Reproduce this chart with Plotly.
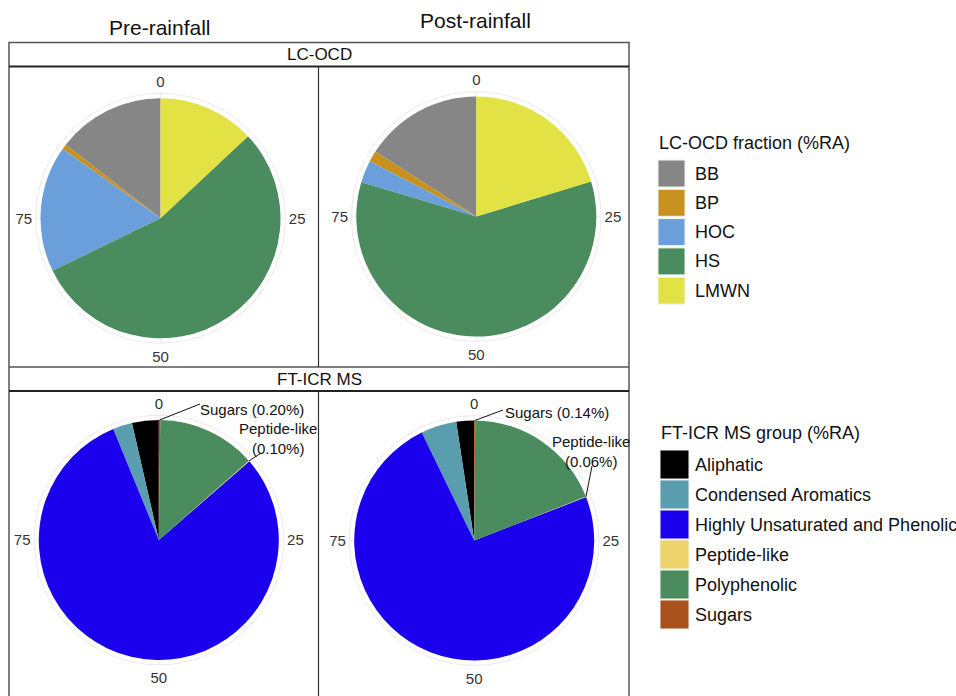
import math
import plotly.graph_objects as go

# ---- data (%RA) -------------------------------------------------------------
lc_groups = ["BB", "BP", "HOC", "HS", "LMWN"]
lc_colors = ["#868686", "#C8911F", "#6A9FDB", "#4A8C5E", "#E3E245"]
lc_pre = [14.5, 0.7, 17.0, 54.8, 13.0]
lc_post = [15.9, 1.5, 3.0, 59.3, 20.3]

ft_groups = ["Aliphatic", "Condensed Aromatics", "Highly Unsaturated and Phenolic",
             "Peptide-like", "Polyphenolic", "Sugars"]
ft_colors = ["#000000", "#5A9DAE", "#1B00EE", "#EED36A", "#4A8C5E", "#A8511C"]
ft_pre = [3.6, 2.6, 80.2, 0.10, 13.3, 0.20]
ft_post = [2.4, 4.8, 73.7, 0.06, 18.9, 0.14]

columns = ["Pre-rainfall", "Post-rainfall"]
strips = ["LC-OCD", "FT-ICR MS"]
axis_ticks = [0, 25, 50, 75]

W, H = 956, 696
PIE_R = 120          # pie radius, px
R_MAX = 1.04         # radial range -> grid circle just outside the pie


def px(x):
    return x / W


def py(y):
    return 1 - y / H


def wedges(values):
    """Stacked like ggplot: last level starts at 0 and runs clockwise."""
    order = list(range(len(values)))[::-1]
    start, thetas, widths = 0.0, [None] * len(values), [None] * len(values)
    for i in order:
        thetas[i] = (start + values[i] / 2) * 3.6
        widths[i] = values[i] * 3.6
        start += values[i]
    return thetas, widths


panels = [
    ("polar", lc_pre, lc_colors, lc_groups, (160.5, 218.3)),
    ("polar2", lc_post, lc_colors, lc_groups, (476.3, 216.5)),
    ("polar3", ft_pre, ft_colors, ft_groups, (158.8, 540.0)),
    ("polar4", ft_post, ft_colors, ft_groups, (474.2, 540.5)),
]

fig = go.Figure()
layout_polars = {}
for name, vals, cols, groups, (cx, cy) in panels:
    th, wd = wedges(vals)
    fig.add_trace(go.Barpolar(
        theta=th, width=wd, r=[1] * len(vals), base=0,
        marker=dict(color=cols, line=dict(width=0)),
        text=groups, hovertemplate="%{text}<extra></extra>",
        subplot=name, showlegend=False,
    ))
    half = PIE_R * R_MAX
    layout_polars[name] = dict(
        domain=dict(x=[px(cx - half), px(cx + half)], y=[py(cy + half), py(cy - half)]),
        bgcolor="white",
        bargap=0,
        radialaxis=dict(visible=False, range=[0, R_MAX]),
        angularaxis=dict(
            direction="clockwise", rotation=90,
            tickmode="array",
            tickvals=[t * 3.6 for t in range(0, 100, 25)] + [t * 3.6 + 45 for t in range(0, 100, 25)],
            ticktext=[str(t) for t in axis_ticks] + [""] * 4,
            ticks="", showline=True, linecolor="#EBEBEB", linewidth=1,
            gridcolor="#EBEBEB", gridwidth=1,
            tickfont=dict(family="Liberation Sans, Arial", size=15, color="#333333"),
        ),
    )

fig.update_layout(**layout_polars)

# ---- facet frame -------------------------------------------------------------
shapes = []
frame = dict(color="#555555", width=1.5)
sep = dict(color="#222222", width=2)
L, R, MID = 9, 629, 318.5
TOP, S1B, P1B, S2B, BOT = 42.5, 66.5, 367, 391, 700
shapes.append(dict(type="rect", xref="paper", yref="paper",
                   x0=px(L), x1=px(R), y0=py(BOT), y1=py(TOP), line=frame))
for y, ln in [(S1B, sep), (P1B, frame), (S2B, sep)]:
    shapes.append(dict(type="line", xref="paper", yref="paper",
                       x0=px(L), x1=px(R), y0=py(y), y1=py(y), line=ln))
for y0, y1 in [(S1B, P1B), (S2B, BOT)]:
    shapes.append(dict(type="line", xref="paper", yref="paper",
                       x0=px(MID), x1=px(MID), y0=py(y0), y1=py(y1),
                       line=dict(color="#333333", width=1.2)))

ann = []
font = "Liberation Sans, Arial"


def label(text, x, y, size, xanchor="center", align="center"):
    ann.append(dict(text=text, x=px(x), y=py(y), xref="paper", yref="paper",
                    xanchor=xanchor, yanchor="middle", align=align, showarrow=False,
                    font=dict(family=font, size=size, color="#111111")))


label(columns[0], 160, 27, 21)
label(columns[1], 475, 21, 21)
label(strips[0], 319, 54.5, 17)
label(strips[1], 319, 379, 17)


# ---- call-outs for the small FT-ICR MS groups ----------------------------------
def edge_point(vals, idx, cx, cy):
    th, _ = wedges(vals)
    a = math.radians(th[idx])
    return cx + PIE_R * math.sin(a), cy - PIE_R * math.cos(a)


callouts = [
    (ft_pre, (158.8, 540.0), 5, f"Sugars ({ft_pre[5]:.2f}%)", (200, 404), (252, 409)),
    (ft_pre, (158.8, 540.0), 3, f"Peptide-like<br>({ft_pre[3]:.2f}%)", (261, 453), (278, 438)),
    (ft_post, (474.2, 540.5), 5, f"Sugars ({ft_post[5]:.2f}%)", (503, 410), (557, 413)),
    (ft_post, (474.2, 540.5), 3, f"Peptide-like<br>({ft_post[3]:.2f}%)", (592, 466), (591, 451)),
]
for vals, (cx, cy), idx, text, (lx, ly), (tx, ty) in callouts:
    ex, ey = edge_point(vals, idx, cx, cy)
    shapes.append(dict(type="line", xref="paper", yref="paper",
                       x0=px(ex), y0=py(ey), x1=px(lx), y1=py(ly),
                       line=dict(color="#111111", width=1)))
    label(text, tx, ty, 15)


# ---- legends -------------------------------------------------------------------
def legend_block(title, names, colors, x0, title_y, first_top, size, pitch):
    label(title, x0, title_y, 18, xanchor="left")
    for i, (n, c) in enumerate(zip(names, colors)):
        top = first_top + i * pitch
        shapes.append(dict(type="rect", xref="paper", yref="paper",
                           x0=px(x0 + 1), x1=px(x0 + 1 + size),
                           y0=py(top + size), y1=py(top),
                           fillcolor=c, line=dict(color="#F2F2F2", width=1)))
        label(n, 693, top + size / 2, 18, xanchor="left")


legend_block("LC-OCD fraction (%RA)", lc_groups, lc_colors, 657, 143, 160, 27, 29.3)
legend_block("FT-ICR MS group (%RA)", ft_groups, ft_colors, 659, 433, 450, 29, 30)

fig.update_layout(
    width=W, height=H, autosize=False,
    margin=dict(l=0, r=0, t=0, b=0),
    paper_bgcolor="white", plot_bgcolor="white",
    shapes=shapes, annotations=ann, showlegend=False,
)

fig.write_html("out.html")
